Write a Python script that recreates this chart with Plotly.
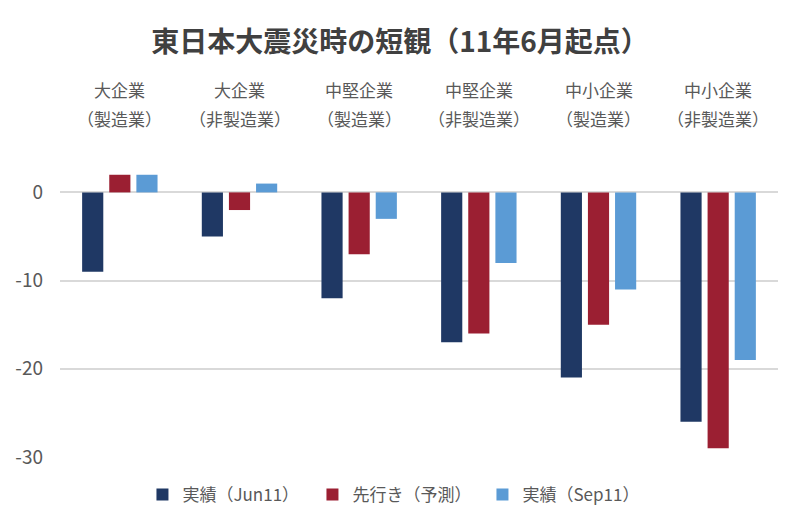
import plotly.graph_objects as go

categories = ["大企業（製造業）", "大企業（非製造業）", "中堅企業（製造業）", "中堅企業（非製造業）", "中小企業（製造業）", "中小企業（非製造業）"]
label_line1 = ["大企業", "大企業", "中堅企業", "中堅企業", "中小企業", "中小企業"]
label_line2 = ["（製造業）", "（非製造業）", "（製造業）", "（非製造業）", "（製造業）", "（非製造業）"]

jun11 = [-9, -5, -12, -17, -21, -26]
forecast = [2, -2, -7, -16, -15, -29]
sep11 = [2, 1, -3, -8, -11, -19]

series_names = ["実績（Jun11）", "先行き（予測）", "実績（Sep11）"]
colors = ["#1F3864", "#9B1F32", "#5B9BD5"]

font_family = "Noto Sans CJK JP, Noto Sans, sans-serif"

fig = go.Figure()
for name, vals, col in zip(series_names, [jun11, forecast, sep11], colors):
    fig.add_trace(go.Bar(x=categories, y=vals, name=name,
                         marker=dict(color=col, line=dict(width=0))))

for c, l1, l2 in zip(categories, label_line1, label_line2):
    fig.add_annotation(x=c, xref="x", y=1, yref="paper", yshift=84, yanchor="middle",
                       text=l1, showarrow=False, font=dict(size=17, color="#595959", family=font_family))
    fig.add_annotation(x=c, xref="x", y=1, yref="paper", yshift=55, yanchor="middle",
                       text=l2, showarrow=False, font=dict(size=17, color="#595959", family=font_family))

W, H = 784, 509
fig.update_layout(
    width=W, height=H,
    margin=dict(l=52, r=14, t=165, b=60, autoexpand=False),
    paper_bgcolor="white", plot_bgcolor="white",
    title=dict(text="<b>東日本大震災時の短観（11年6月起点）</b>", x=0.5, xanchor="center",
               y=1 - 34/H, yanchor="middle",
               font=dict(size=28, color="#404040", family=font_family)),
    barmode="group", bargap=0.32, bargroupgap=0.22,
    showlegend=True,
    legend=dict(orientation="h", x=0.47, xanchor="center", y=-0.134, yanchor="middle",
                font=dict(size=17, color="#595959", family=font_family),
                traceorder="normal", entrywidth=125, entrywidthmode="pixels"),
    font=dict(family=font_family),
)
fig.update_xaxes(showticklabels=False, showgrid=False, zeroline=False, showline=False, ticks="")
fig.update_yaxes(range=[-30, 2.2], tickvals=[0, -10, -20, -30], ticktext=["0", "-10", "-20", "-30"],
                 showgrid=True, gridcolor="#D9D9D9", gridwidth=1.5, zeroline=False, showline=False,
                 tickfont=dict(size=19, color="#595959", family=font_family), ticklabelstandoff=16)

fig.write_html("out.html")
